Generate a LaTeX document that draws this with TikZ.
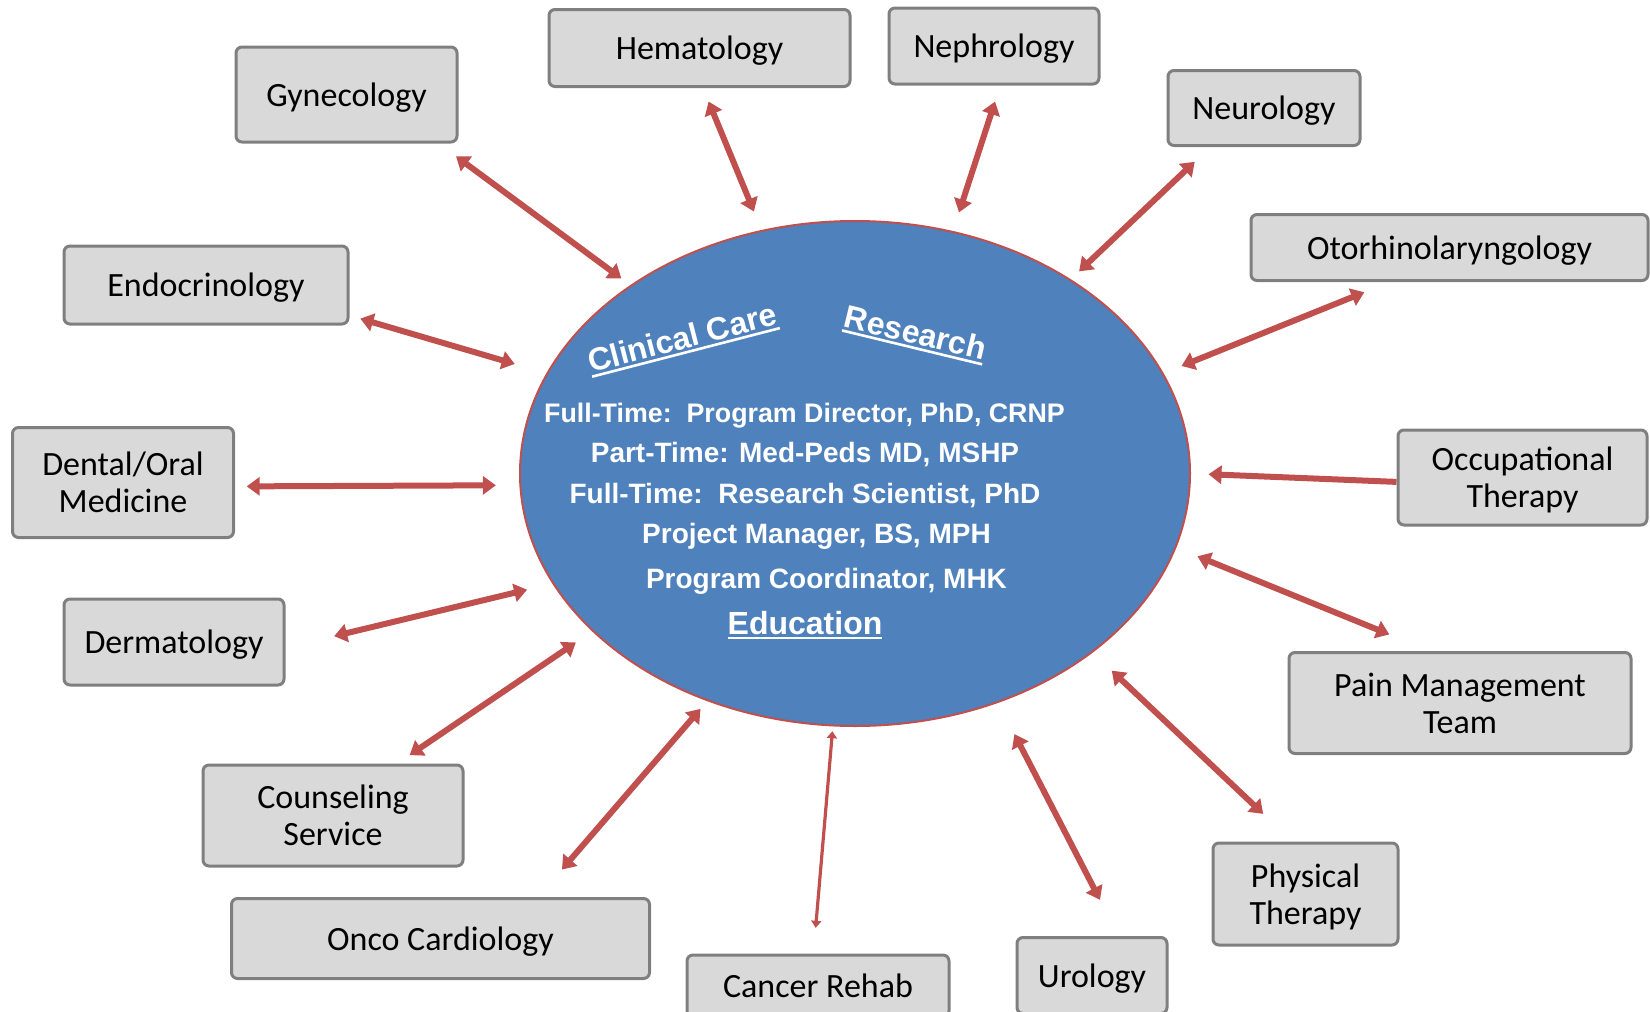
\documentclass[tikz,border=0pt]{standalone}
\usepackage{fontspec}
\setmainfont{Carlito}
\newfontfamily\hubfont{Liberation Sans}
\usetikzlibrary{arrows.meta,shapes.geometric}

\definecolor{linkred}{HTML}{C0504D}
\definecolor{hubblue}{HTML}{4F81BD}
\definecolor{deptfill}{HTML}{D9D9D9}
\definecolor{deptline}{HTML}{7F7F7F}

\newcommand{\ulined}[1]{\setbox0\hbox{#1}\rlap{\rule[-2.6pt]{\wd0}{1.3pt}}\box0}

\tikzset{
  dept/.style={draw=deptline, fill=deptfill, line width=1.5pt, rounded corners=3pt,
    align=center, inner sep=2pt, text depth=0pt, font=\fontsize{17pt}{18.5pt}\selectfont},
  staff/.style={text=white, anchor=base, font=\hubfont\bfseries\fontsize{14pt}{16pt}\selectfont},
  head/.style={text=white, anchor=base, font=\hubfont\bfseries\fontsize{16pt}{19pt}\selectfont},
  link/.style={color=linkred, line width=3pt, >={Triangle[length=6.5pt,width=9pt]}},
}

\begin{document}
\begin{tikzpicture}[x=0.5pt, y=-0.5pt]
  \useasboundingbox (0,0) rectangle (1650,1012);
  % centre of the program
  \node[ellipse, draw=linkred, line width=1pt, fill=hubblue, minimum width=335pt,
    minimum height=252.5pt, inner sep=0pt] (hub) at (855,473.5) {};
  \node[head, rotate=14.5] (clin) at (685,348.6) {\ulined{Clinical Care}};
  \node[head, rotate=-13.6] (res) at (913,343.6) {\ulined{Research}};
  \node[staff, font=\hubfont\bfseries\fontsize{13.4pt}{16pt}\selectfont] (ft1) at (804.5,422.5)
    {Full-Time:\ \ Program Director, PhD, CRNP};
  \node[staff] (pt)  at (805,462) {Part-Time: Med-Peds MD, MSHP};
  \node[staff] (ft2) at (805,503) {Full-Time:\ \ Research Scientist, PhD};
  \node[staff] (pm)  at (816.5,543) {Project Manager, BS, MPH};
  \node[staff] (pc)  at (826.5,588) {Program Coordinator, MHK};
  \node[head] (edu)  at (805,634) {\ulined{Education}};
  % services around it
  \node[dept, minimum width=110.5pt, minimum height=47.5pt] (gyn)  at (346.5,94.5) {Gynecology};
  \node[dept, minimum width=150.5pt, minimum height=38.5pt] (hem)  at (699.5,48) {Hematology};
  \node[dept, minimum width=105pt,   minimum height=38pt]   (nep)  at (994,46) {Nephrology};
  \node[dept, minimum width=96pt,    minimum height=37.5pt] (neu)  at (1264,108) {Neurology};
  \node[dept, minimum width=198.5pt, minimum height=33pt]   (oto)  at (1449.5,247.5) {Otorhinolaryngology};
  \node[dept, minimum width=142pt,   minimum height=39pt]   (endo) at (206,285) {Endocrinology};
  \node[dept, minimum width=110.5pt, minimum height=55pt]   (dent) at (123,482.5) {Dental/Oral\\Medicine};
  \node[dept, minimum width=124.5pt, minimum height=47.5pt] (occ)  at (1522.5,477.5) {Occupational\\Therapy};
  \node[dept, minimum width=110pt,   minimum height=43pt]   (derm) at (174,642) {Dermatology};
  \node[dept, minimum width=171pt,   minimum height=50.5pt] (pain) at (1460,703) {Pain Management\\Team};
  \node[dept, minimum width=130pt,   minimum height=50.5pt] (coun) at (333,815.5) {Counseling\\Service};
  \node[dept, minimum width=92.5pt,  minimum height=51pt]   (phys) at (1305.5,894) {Physical\\Therapy};
  \node[dept, minimum width=209pt,   minimum height=40pt]   (onco) at (440.5,938.5) {Onco Cardiology};
  \node[dept, minimum width=131pt,   minimum height=31pt]   (canc) at (818,986) {Cancer Rehab};
  \node[dept, minimum width=75pt,    minimum height=38pt]   (uro)  at (1092,975.5) {Urology};
  % links
  \path[link,<->]
    (hub.140.3)  edge[shorten <=5.6pt,  shorten >=10.75pt] (gyn.-28.7)
    (hub.111.2)  edge[shorten <=10pt,   shorten >=7.3pt]   (hem.-85.1)
    (hub.68.8)   edge[shorten <=9.8pt,  shorten >=8.45pt]  (nep.-81.2)
    (hub.42.65)  edge[shorten <=5.7pt,  shorten >=10.75pt] (neu.-144)
    (hub.18.7)   edge[shorten <=9.65pt, shorten >=13.7pt]  (oto.-150.4)
    (hub.162.4)  edge[shorten <=16.5pt, shorten >=5.65pt]  (endo.-12.6)
    (hub.-178.4) edge[shorten <=11.75pt,shorten >=5.85pt]  (dent.-2.5)
    (hub.-0.55)  edge[<-, shorten <=8.75pt]                (occ.-178.9)
    (hub.-160.3) edge[shorten <=13pt,   shorten >=25pt]    (derm.-3.5)
    (hub.-13.96) edge[shorten <=11.4pt, shorten >=21.95pt] (pain.120.8)
    (hub.-149)   edge[shorten <=9.85pt, shorten >=7.5pt]   (coun.39.8)
    (hub.-37.45) edge[shorten <=13.1pt, shorten >=20.1pt]  (phys.104.7)
    (hub.-123.5) edge[shorten <=5.1pt,  shorten >=18.1pt]  (onco.23.9)
    (hub.-95.8)  edge[line width=1.6pt, {Triangle[length=3.5pt,width=5pt]}-{Triangle[length=3.5pt,width=5pt]},
                      shorten <=2.4pt,  shorten >=12.9pt]  (canc.98.8)
    (hub.-58.06) edge[shorten <=17.6pt, shorten >=20.3pt]  (uro.56.4);
\end{tikzpicture}
\end{document}
